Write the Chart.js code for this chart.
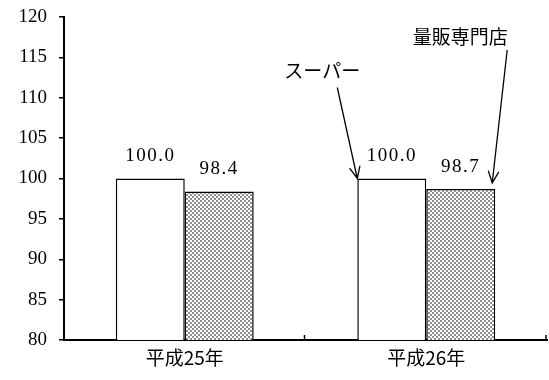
<!DOCTYPE html>
<html>
<head>
<meta charset="utf-8">
<script src="https://cdn.jsdelivr.net/npm/chart.js@4/dist/chart.umd.min.js"></script>
<style>
  html, body { margin: 0; padding: 0; background: #fff; }
  #wrap { width: 549px; height: 380px; }
</style>
</head>
<body>
<div id="wrap"><canvas id="chart" width="549" height="380"></canvas></div>
<script>
const categories = ['平成25年', '平成26年'];
const superValues = [100.0, 100.0];
const massRetailValues = [98.4, 98.7];
const seriesNames = ['スーパー', '量販専門店'];
const yMin = 80;
const yMax = 120;
const yStep = 5;

const serifFamily = '"Liberation Serif", "DejaVu Serif", serif';
const numFont = '19px ' + serifFamily;
const cjkFont = '19px "Noto Sans CJK JP", sans-serif';

// checkered fill like the original
function makeChecker() {
    const c = document.createElement('canvas');
    c.width = 4;
    c.height = 4;
    const g = c.getContext('2d');
    g.fillStyle = '#ffffff';
    g.fillRect(0, 0, 4, 4);
    g.fillStyle = '#8f8f8f';
    g.fillRect(0, 0, 2, 2);
    g.fillRect(2, 2, 2, 2);
    return g.createPattern(c, 'repeat');
}

function drawArrow(ctx, x1, y1, x2, y2) {
    const ang = Math.atan2(y2 - y1, x2 - x1);
    const len = 13;
    const spread = 0.42;
    ctx.beginPath();
    ctx.moveTo(x1, y1);
    ctx.lineTo(x2, y2);
    ctx.moveTo(x2 - len * Math.cos(ang - spread), y2 - len * Math.sin(ang - spread));
    ctx.lineTo(x2, y2);
    ctx.lineTo(x2 - len * Math.cos(ang + spread), y2 - len * Math.sin(ang + spread));
    ctx.stroke();
}

const barLabels = {
    id: 'barLabels',
    afterDatasetsDraw(chart) {
        const ctx = chart.ctx;
        ctx.save();
        ctx.font = numFont;
        ctx.letterSpacing = '1.5px';
        ctx.fillStyle = '#000';
        ctx.textAlign = 'center';
        ctx.textBaseline = 'middle';
        chart.data.datasets.forEach((ds, i) => {
            chart.getDatasetMeta(i).data.forEach((bar, j) => {
                ctx.fillText(ds.data[j].toFixed(1), bar.x, bar.y - 22);
            });
        });
        ctx.restore();
    }
};

// axis ticks pointing up at category boundaries + series callouts
const extras = {
    id: 'extras',
    afterDraw(chart) {
        const ctx = chart.ctx;
        const area = chart.chartArea;
        ctx.save();
        ctx.strokeStyle = '#000';
        ctx.lineWidth = 1.5;
        const step = (area.right - area.left) / categories.length;
        for (let i = 1; i <= categories.length; i++) {
            const px = area.left + step * i - 1;
            ctx.beginPath();
            ctx.moveTo(px, area.bottom);
            ctx.lineTo(px, area.bottom - 5);
            ctx.stroke();
        }

        const last = categories.length - 1;
        const supBar = chart.getDatasetMeta(0).data[last];
        const massBar = chart.getDatasetMeta(1).data[last];

        ctx.font = cjkFont;
        ctx.fillStyle = '#000';
        ctx.textAlign = 'center';
        ctx.textBaseline = 'middle';
        ctx.lineWidth = 1.3;

        const tip1x = supBar.x - supBar.width / 2;
        const tip1y = supBar.y;
        ctx.fillText(seriesNames[0], tip1x - 35, tip1y - 108);
        drawArrow(ctx, tip1x - 20, tip1y - 91, tip1x, tip1y);

        const tip2x = massBar.x + massBar.width / 2 - 3;
        const tip2y = massBar.y - 6;
        ctx.fillText(seriesNames[1], tip2x - 32, tip2y - 146);
        drawArrow(ctx, tip2x + 15, tip2y - 133, tip2x, tip2y);
        ctx.restore();
    }
};

new Chart(document.getElementById('chart'), {
    type: 'bar',
    data: {
        labels: categories,
        datasets: [{
            label: seriesNames[0],
            data: superValues,
            backgroundColor: '#ffffff',
            borderColor: '#000',
            borderWidth: 1.5,
            categoryPercentage: 0.571,
            barPercentage: 1.0
        }, {
            label: seriesNames[1],
            data: massRetailValues,
            backgroundColor: makeChecker(),
            borderColor: '#000',
            borderWidth: 1.5,
            categoryPercentage: 0.571,
            barPercentage: 1.0
        }]
    },
    options: {
        responsive: false,
        animation: false,
        layout: { padding: { top: 17, right: 2, left: 0, bottom: 0 } },
        plugins: {
            legend: { display: false },
            tooltip: { enabled: false }
        },
        scales: {
            x: {
                afterFit(scale) { scale.height = 40; },
                grid: { display: true, drawOnChartArea: false, drawTicks: false },
                border: { color: '#000', width: 2 },
                ticks: { color: '#000', font: { family: '"Noto Sans CJK JP", sans-serif', size: 19 }, padding: 6 }
            },
            y: {
                min: yMin,
                max: yMax,
                afterFit(scale) {
                    scale.width = 64;
                    scale.paddingTop = 0;
                    scale.paddingBottom = 0;
                },
                grid: { drawOnChartArea: false, drawTicks: true, tickLength: 5, color: '#000', lineWidth: 1.5 },
                border: { color: '#000', width: 2 },
                ticks: {
                    stepSize: yStep,
                    color: '#000',
                    padding: 12,
                    font: { family: serifFamily, size: 19 }
                }
            }
        }
    },
    plugins: [barLabels, extras]
});
</script>
</body>
</html>
